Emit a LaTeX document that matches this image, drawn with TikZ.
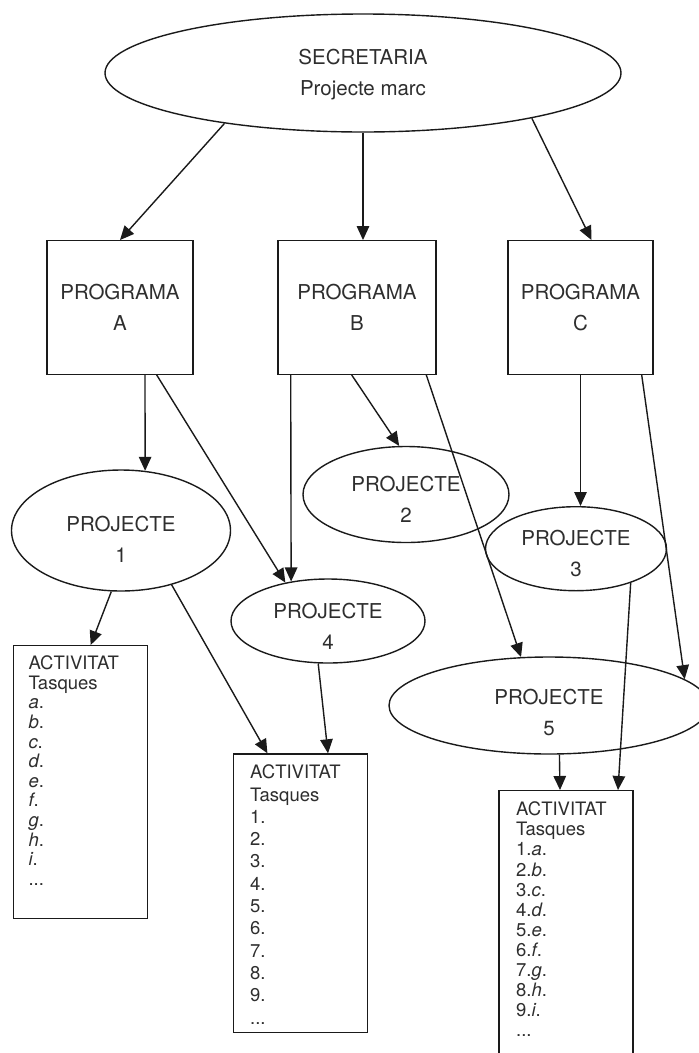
\documentclass[tikz,border=0pt]{standalone}
\usepackage{fontspec}
\setmainfont{TeX Gyre Heros}
\usetikzlibrary{arrows.meta,shapes.geometric}
\definecolor{ink}{HTML}{1A1A1A}
\definecolor{txt}{HTML}{2E2E2E}
\begin{document}
\begin{tikzpicture}[x=1pt,y=-1pt,
  every node/.style={font=\fontsize{20.5}{31}\selectfont, text=txt},
  progbox/.style={draw=ink, line width=1.4pt, rectangle, inner sep=0pt, align=center, minimum height=133.5pt},
  projell/.style={draw=ink, line width=1.4pt, ellipse, inner sep=0pt},
  projtext/.style={align=center, inner sep=0pt},
  actbox/.style={draw=ink, line width=1.4pt, rectangle, inner sep=0pt, minimum width=134pt},
  acttext/.style={anchor=north west, inner sep=0pt, align=left},
  arr/.style={draw=ink, line width=1.4pt, -{Triangle[length=14pt,width=12.5pt]}}]
\useasboundingbox (0,0) rectangle (699,1053);
\clip (0,0) rectangle (699,1053);

% top
\node[projell, minimum width=516pt, minimum height=118pt] (sec) at (363,73) {};
\node[projtext] (sect) at ([yshift=-2pt]sec.center) {SECRETARIA\\Projecte marc};

% programs
\node[progbox, minimum width=146pt] (progA) at (120,307.5) {PROGRAMA\\A};
\node[progbox, minimum width=158pt] (progB) at (357,307.5) {PROGRAMA\\B};
\node[progbox, minimum width=145pt] (progC) at (580.5,307.5) {PROGRAMA\\C};

% projects
\node[projell, minimum width=219pt, minimum height=121pt] (p1) at (121,530.5) {};
\node[projell, minimum width=206pt, minimum height=96pt] (p2) at (406,494.5) {};
\node[projell, minimum width=181pt, minimum height=84pt] (p3) at (576,548.7) {};
\node[projell, minimum width=194pt, minimum height=84pt] (p4) at (328,621) {};
\node[projell, minimum width=320pt, minimum height=97pt] (p5) at (549,705.5) {};
\node[projtext] (p1t) at ([yshift=-9pt]p1.center) {PROJECTE\\1};
\node[projtext] (p2t) at ([yshift=-4.5pt]p2.center) {PROJECTE\\2};
\node[projtext] (p3t) at ([yshift=-4.3pt]p3.center) {PROJECTE\\3};
\node[projtext] (p4t) at ([yshift=-5.7pt]p4.center) {PROJECTE\\4};
\node[projtext] (p5t) at ([yshift=-7pt]p5.center) {PROJECTE\\5};

% activity boxes
\node[actbox, minimum height=273pt, anchor=north west] (act1) at (12.7,645) {};
\node[actbox, minimum height=278.4pt, anchor=north west] (act2) at (232.7,753.3) {};
\node[actbox, minimum height=300pt, anchor=north west] (act3) at (498.3,790) {};

\node[acttext, font=\fontsize{18.5}{19.6}\selectfont] (act1t) at (28.3,655.7) {ACTIVITAT\\Tasques\\\textit{a}.\\\textit{b}.\\\textit{c}.\\\textit{d}.\\\textit{e}.\\\textit{f}.\\\textit{g}.\\\textit{h}.\\\textit{i}.\\...};
\node[acttext, font=\fontsize{18.5}{22.3}\selectfont] (act2t) at (250,764.7) {ACTIVITAT\\Tasques\\1.\\2.\\3.\\4.\\5.\\6.\\7.\\8.\\9.\\...};
\node[acttext, font=\fontsize{18.5}{20.1}\selectfont] (act3t) at (516,801.7) {ACTIVITAT\\Tasques\\1.\textit{a}.\\2.\textit{b}.\\3.\textit{c}.\\4.\textit{d}.\\5.\textit{e}.\\6.\textit{f}.\\7.\textit{g}.\\8.\textit{h}.\\9.\textit{i}.\\...};

% connectors
\draw[arr] (sec.200.2) -- (progA.north);
\draw[arr] (sec.south) -- (sec.south |- progB.north);
\draw[arr] (sec.345.3) -- ([xshift=11pt]progC.north);

\draw[arr] ([xshift=25pt]progA.south) -- (p1.68);
\draw[arr] ([xshift=36.7pt]progA.south) -- (p4.138.3);
\draw[arr] ([xshift=-66.3pt]progB.south) -- (p4.133.9);
\draw[arr] ([xshift=-5.3pt]progB.south) -- (p2.98.8);
\draw[arr] ([xshift=69.3pt]progB.south) -- (p5.120);
\draw[arr] (progC.south) -- (progC.south |- p3.north);
\draw[arr] ([xshift=61.2pt]progC.south) -- (p5.11.8);

\draw[arr] (p1.261.2) -- ([xshift=10.3pt]act1.north);
\draw[arr] (p1.-47.1) -- ([xshift=-33pt]act2.north);
\draw[arr] (p4.-103.1) -- ([xshift=27.6pt]act2.north);
\draw[arr] (p5.-78.3) -- ([xshift=-6pt]act3.north);
\draw[arr] (p3.-32.3) -- ([xshift=52pt]act3.north);
\end{tikzpicture}
\end{document}
